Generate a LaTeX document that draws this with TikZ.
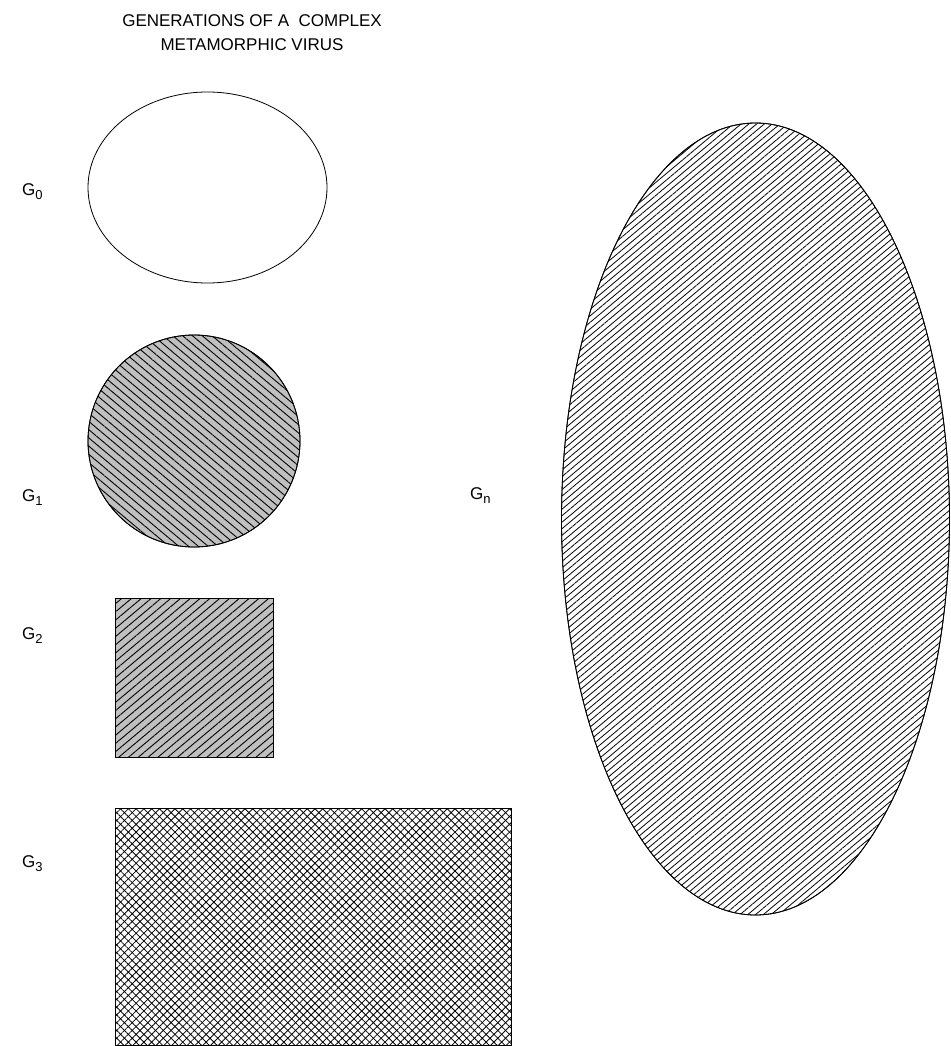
\documentclass[tikz,border=0pt]{standalone}
\usepackage{fontspec}
\setmainfont{Liberation Sans}
\usetikzlibrary{patterns.meta}
\newcommand{\gsub}[1]{G\raisebox{-0.45ex}{\fontsize{13}{13}\selectfont #1}}
\begin{document}
\begin{tikzpicture}[x=1pt,y=-1pt,
  outline/.style={draw=black,line width=0.8pt},
  lbl/.style={font=\fontsize{17}{20}\selectfont,inner sep=0pt,anchor=west},
  titletxt/.style={font=\fontsize{17}{24}\selectfont,align=center,inner sep=0pt},
  gray1/.style={fill={rgb,255:red,192;green,192;blue,192}}]
\useasboundingbox (0,0) rectangle (950,1046);
\node[titletxt] (title) at (252,33) {GENERATIONS OF A\ \ COMPLEX\\METAMORPHIC VIRUS};
% G0
\draw[outline] (207.5,187.5) ellipse [x radius=119.5, y radius=95.5];
\node[lbl] (g0) at (22,192) {\gsub{0}};
% G1
\draw[outline,gray1,postaction={pattern={Lines[angle=-40,distance=6.3pt,line width=0.9pt]},pattern color=black}] (194,441) circle [radius=106];
\draw[outline] (194,441) circle [radius=106];
\node[lbl] (g1) at (22,498) {\gsub{1}};
% G2
\draw[outline,gray1,postaction={pattern={Lines[angle=40,distance=6.3pt,line width=0.9pt]},pattern color=black}] (115,598) rectangle (273,757);
\draw[outline] (115,598) rectangle (273,757);
\node[lbl] (g2) at (22,636) {\gsub{2}};
% G3
\draw[outline,pattern={Lines[angle=45,distance=5.5pt,line width=0.8pt]},pattern color=black] (115,808) rectangle (511,1045);
\path[pattern={Lines[angle=-45,distance=5.5pt,line width=0.8pt]},pattern color=black] (115,808) rectangle (511,1045);
\draw[outline] (115,808) rectangle (511,1045);
\node[lbl] (g3) at (22,864) {\gsub{3}};
% Gn
\draw[outline,pattern={Lines[angle=40,distance=5pt,line width=0.8pt]},pattern color=black] (755.5,519) ellipse [x radius=194, y radius=396];
\draw[outline] (755.5,519) ellipse [x radius=194, y radius=396];
\node[lbl] (gn) at (470,496) {\gsub{n}};
\end{tikzpicture}
\end{document}
